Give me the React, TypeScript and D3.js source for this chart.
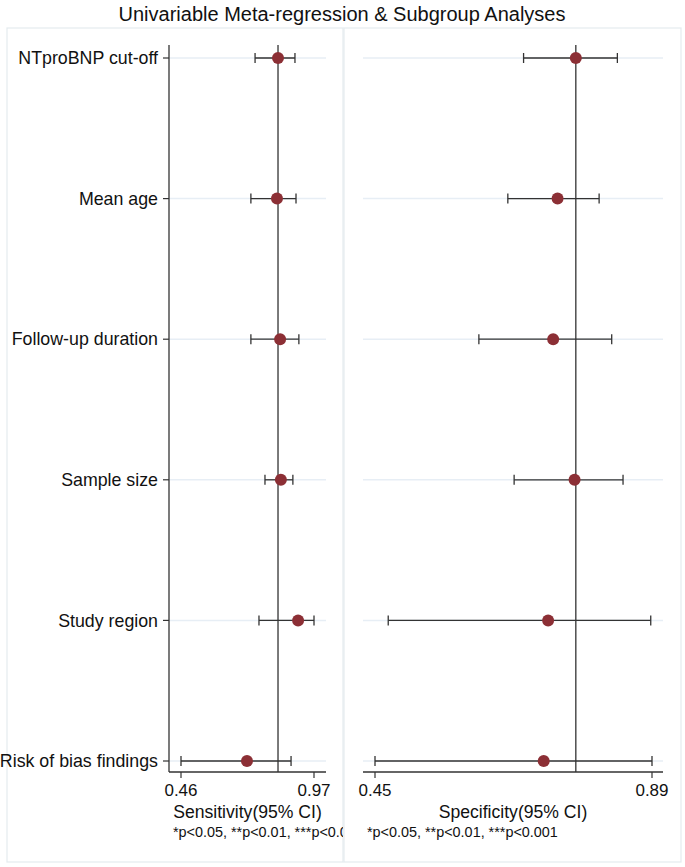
import React from "react";
import * as d3 from "d3";

const categories = ["NTproBNP cut-off", "Mean age", "Follow-up duration", "Sample size", "Study region", "Risk of bias findings"];
const sensEst = [0.832, 0.828, 0.84, 0.843, 0.909, 0.713];
const sensLo = [0.744, 0.728, 0.728, 0.782, 0.759, 0.46];
const sensHi = [0.897, 0.901, 0.912, 0.889, 0.97, 0.882];
const sensRef = 0.832;
const sensTicks = [0.46, 0.97];

const specEst = [0.769, 0.74, 0.733, 0.767, 0.725, 0.718];
const specLo = [0.686, 0.661, 0.615, 0.671, 0.471, 0.45];
const specHi = [0.835, 0.806, 0.826, 0.844, 0.888, 0.89];
const specRef = 0.769;
const specTicks = [0.45, 0.89];

const title = "Univariable Meta-regression & Subgroup Analyses";
const footnote = "*p<0.05, **p<0.01, ***p<0.001";

const FONT = "Liberation Sans, Arial, Helvetica, sans-serif";
const DOT = "#8c2f35";
const GRID = "#e7eef5";
const FRAME = "#e4ebef";

type PanelProps = {
  x0: number; x1: number; domain: [number, number];
  est: number[]; lo: number[]; hi: number[]; ref: number; ticks: number[];
  xlabel: string; showY: boolean; clipId: string; clipX0: number; clipX1: number;
};

const yScale = d3.scalePoint<string>().domain(categories).range([58, 761]);
const axisY = 772;
const topY = 45;

function Panel(p: PanelProps) {
  const x = d3.scaleLinear().domain(p.domain).range([p.x0, p.x1]);
  const cx = (p.x0 + p.x1) / 2;
  return (
    <g>
      <defs>
        <clipPath id={p.clipId}>
          <rect x={p.clipX0} y={0} width={p.clipX1 - p.clipX0} height={867} />
        </clipPath>
      </defs>
      {categories.map((c) => (
        <line key={c} x1={p.x0} x2={p.x1} y1={yScale(c)} y2={yScale(c)} stroke={GRID} strokeWidth={1.5} />
      ))}
      <line x1={x(p.ref)} x2={x(p.ref)} y1={topY} y2={axisY} stroke="#333" strokeWidth={1.3} />
      {p.showY && (
        <g>
          <line x1={p.x0} x2={p.x0} y1={topY} y2={axisY} stroke="#333" strokeWidth={1.3} />
          {categories.map((c) => (
            <g key={c}>
              <line x1={p.x0 - 6} x2={p.x0} y1={yScale(c)} y2={yScale(c)} stroke="#333" strokeWidth={1.2} />
              <text x={p.x0 - 11} y={yScale(c)} dy="0.35em" textAnchor="end" fontSize={17.8} fill="#111">{c}</text>
            </g>
          ))}
        </g>
      )}
      <line x1={p.x0} x2={p.x1} y1={axisY} y2={axisY} stroke="#333" strokeWidth={1.3} />
      {p.ticks.map((t) => (
        <g key={t}>
          <line x1={x(t)} x2={x(t)} y1={axisY} y2={axisY + 6} stroke="#333" strokeWidth={1.2} />
          <text x={x(t)} y={axisY + 24} textAnchor="middle" fontSize={17} fill="#111">{t.toFixed(2)}</text>
        </g>
      ))}
      {categories.map((c, i) => {
        const y = yScale(c)!;
        return (
          <g key={c}>
            <line x1={x(p.lo[i])} x2={x(p.hi[i])} y1={y} y2={y} stroke="#333" strokeWidth={1.3} />
            <line x1={x(p.lo[i])} x2={x(p.lo[i])} y1={y - 5} y2={y + 5} stroke="#333" strokeWidth={1.3} />
            <line x1={x(p.hi[i])} x2={x(p.hi[i])} y1={y - 5} y2={y + 5} stroke="#333" strokeWidth={1.3} />
            <circle cx={x(p.est[i])} cy={y} r={6} fill={DOT} />
          </g>
        );
      })}
      <text x={cx} y={axisY + 46} textAnchor="middle" fontSize={17.6} fill="#111">{p.xlabel}</text>
      <g clipPath={`url(#${p.clipId})`}>
        <text x={p.x0 + 4} y={axisY + 65} fontSize={14.4} fill="#111">{footnote}</text>
      </g>
    </g>
  );
}

export default function App() {
  return (
    <svg width={685} height={867} style={{ position: "absolute", left: 0, top: 0 }} fontFamily={FONT}>
      <rect x={0} y={0} width={685} height={867} fill="#fff" />
      <text x={342} y={21} textAnchor="middle" fontSize={20} fill="#111">{title}</text>
      <rect x={7} y={28} width={336} height={834} fill="none" stroke={FRAME} strokeWidth={1.2} />
      <rect x={344} y={28} width={337} height={834} fill="none" stroke={FRAME} strokeWidth={1.2} />
      <Panel x0={169} x1={326} domain={[0.46 - 12 / 260.8, 0.97 + 12 / 260.8]}
        est={sensEst} lo={sensLo} hi={sensHi} ref={sensRef} ticks={sensTicks}
        xlabel="Sensitivity(95% CI)" showY={true} clipId="clipL" clipX0={0} clipX1={343} />
      <Panel x0={363} x1={663} domain={[0.45 - 12 / 629.5, 0.89 + 11 / 629.5]}
        est={specEst} lo={specLo} hi={specHi} ref={specRef} ticks={specTicks}
        xlabel="Specificity(95% CI)" showY={false} clipId="clipR" clipX0={344} clipX1={685} />
    </svg>
  );
}
